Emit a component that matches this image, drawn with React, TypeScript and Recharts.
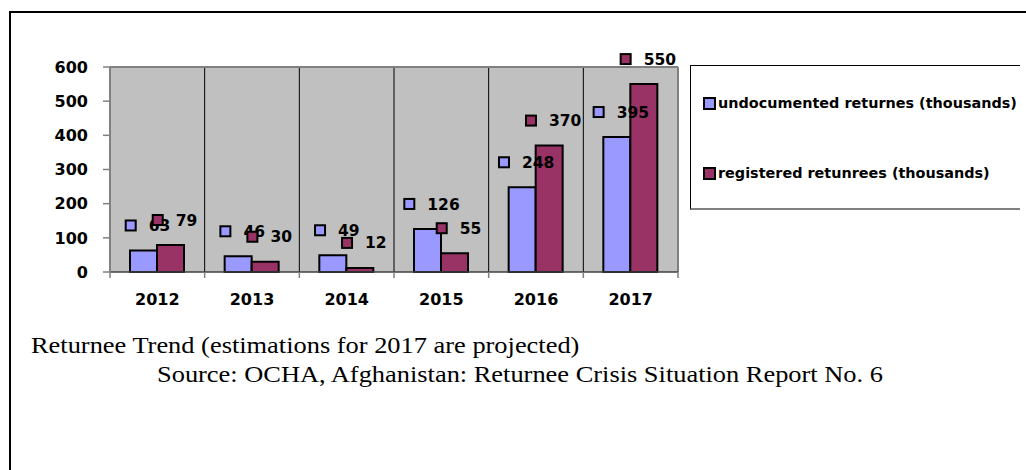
import React from 'react';
import { BarChart, Bar, XAxis, YAxis, CartesianGrid, LabelList } from 'recharts';

const years = ['2012', '2013', '2014', '2015', '2016', '2017'];
const undocumented = [63, 46, 49, 126, 248, 395];
const registered = [79, 30, 12, 55, 370, 550];
const yTicks = [0, 100, 200, 300, 400, 500, 600];
const seriesKeys = ['undocumented', 'registered'];
const seriesNames = ['undocumented returnes (thousands)', 'registered retunrees (thousands)'];
const seriesColors = ['#9999ff', '#993366'];
const caption1 = 'Returnee Trend (estimations for 2017 are projected)';
const caption2 = 'Source: OCHA, Afghanistan: Returnee Crisis Situation Report No. 6';

const data = years.map((y, i) => ({ year: y, undocumented: undocumented[i], registered: registered[i] }));

const W = 1026;
const H = 470;
const PLOT_LEFT = 110;
const PLOT_RIGHT = 678;
const PLOT_TOP = 67;
const PLOT_BOTTOM = 272;
const XAXIS_H = 30;
const FONT = '"DejaVu Sans", sans-serif';
const SERIF = '"Liberation Serif", "Times New Roman", serif';
const BAND = (PLOT_RIGHT - PLOT_LEFT) / years.length;

const makeLabel = (color: string) => (props: any) => {
  const { x, y, width, value } = props;
  const fs = 15.5;
  const textW = String(value).length * 0.696 * fs;
  const groupW = 12 + 12 + textW;
  const cx = Number(x) + Number(width) / 2 + 4;
  const left = cx - groupW / 2;
  const cy = Number(y) - 25;
  return (
    <g>
      <rect x={left + 1} y={cy - 5} width={10} height={10} fill={color} stroke="#000" strokeWidth={2} />
      <text x={left + 24} y={cy} dy="0.36em" fontFamily={FONT} fontWeight="bold" fontSize={fs} fill="#000">
        {value}
      </text>
    </g>
  );
};

const YearTick = (props: any) => {
  const { x, y, payload, index } = props;
  const axisY = Number(y) - 22;
  return (
    <g>
      <line x1={x - BAND / 2} x2={x - BAND / 2} y1={axisY} y2={axisY + 6} stroke="#808080" strokeWidth={1.5} />
      {index === years.length - 1 && (
        <line x1={x + BAND / 2} x2={x + BAND / 2} y1={axisY} y2={axisY + 6} stroke="#808080" strokeWidth={1.5} />
      )}
      <text x={x} y={y} dy="0.71em" textAnchor="middle" fontFamily={FONT} fontWeight="bold" fontSize={16} fill="#000">
        {payload.value}
      </text>
    </g>
  );
};

const captionStyle = (left: number, top: number): React.CSSProperties => ({
  position: 'absolute',
  left,
  top,
  fontFamily: SERIF,
  fontSize: 24,
  lineHeight: '24px',
  whiteSpace: 'nowrap',
  color: '#000',
  transform: 'scaleX(1.1)',
  transformOrigin: '0 0',
});

export default function App() {
  return (
    <div style={{ position: 'absolute', left: 0, top: 0, width: W, height: H, overflow: 'hidden', background: '#fff' }}>
      <div
        style={{
          position: 'absolute',
          left: 9,
          top: 11,
          width: W,
          height: H,
          borderTop: '2px solid #000',
          borderLeft: '2px solid #000',
        }}
      />
      <div style={{ position: 'absolute', left: 0, top: 0 }}>
        <BarChart
          width={W}
          height={H}
          data={data}
          margin={{ top: PLOT_TOP, right: W - PLOT_RIGHT, bottom: H - PLOT_BOTTOM - XAXIS_H, left: 0 }}
          barGap={0}
        >
          <CartesianGrid
            horizontal={false}
            fill="#c0c0c0"
            fillOpacity={1}
            stroke="#000"
            strokeWidth={1}
            verticalCoordinatesGenerator={({ offset }: any) =>
              years.slice(1).map((_, i) => offset.left + ((i + 1) * offset.width) / years.length)
            }
          />
          <CartesianGrid
            stroke="#808080"
            strokeWidth={2}
            horizontalCoordinatesGenerator={({ offset }: any) => [offset.top]}
            verticalCoordinatesGenerator={({ offset }: any) => [offset.left + offset.width]}
          />
          <XAxis
            dataKey="year"
            height={XAXIS_H}
            tickLine={false}
            tickSize={0}
            tickMargin={22}
            axisLine={{ stroke: '#404040', strokeWidth: 1.5 }}
            tick={<YearTick />}
            interval={0}
          />
          <YAxis
            width={PLOT_LEFT}
            domain={[0, 600]}
            ticks={yTicks}
            tickSize={7}
            tickMargin={15}
            axisLine={{ stroke: '#808080', strokeWidth: 2 }}
            tickLine={{ stroke: '#808080', strokeWidth: 1.5 }}
            tick={{ fill: '#000', fontFamily: FONT, fontWeight: 'bold', fontSize: 16 }}
            interval={0}
          />
          {seriesKeys.map((k, i) => (
            <Bar
              key={k}
              dataKey={k}
              name={seriesNames[i]}
              fill={seriesColors[i]}
              stroke="#000"
              strokeWidth={2}
              barSize={27}
              isAnimationActive={false}
            >
              <LabelList dataKey={k} content={makeLabel(seriesColors[i])} />
            </Bar>
          ))}
        </BarChart>
      </div>
      <div
        style={{
          position: 'absolute',
          left: 690,
          top: 65,
          width: 329,
          height: 142,
          borderLeft: '1px solid #000',
          borderTop: '1px solid #000',
          borderBottom: '2px solid #808080',
        }}
      >
        {seriesNames.map((n, i) => (
          <div
            key={n}
            style={{
              position: 'absolute',
              left: 12,
              top: (i === 0 ? 37 : 107) - 10,
              height: 20,
              display: 'flex',
              alignItems: 'center',
              whiteSpace: 'nowrap',
              fontFamily: FONT,
              fontWeight: 'bold',
              fontSize: 14.4,
              color: '#000',
            }}
          >
            <span
              style={{
                display: 'inline-block',
                width: 9,
                height: 9,
                background: seriesColors[i],
                border: '2px solid #000',
                marginRight: 2,
              }}
            />
            <span>{n}</span>
          </div>
        ))}
      </div>
      <div style={captionStyle(31, 333)}>{caption1}</div>
      <div style={captionStyle(157, 362)}>{caption2}</div>
    </div>
  );
}
